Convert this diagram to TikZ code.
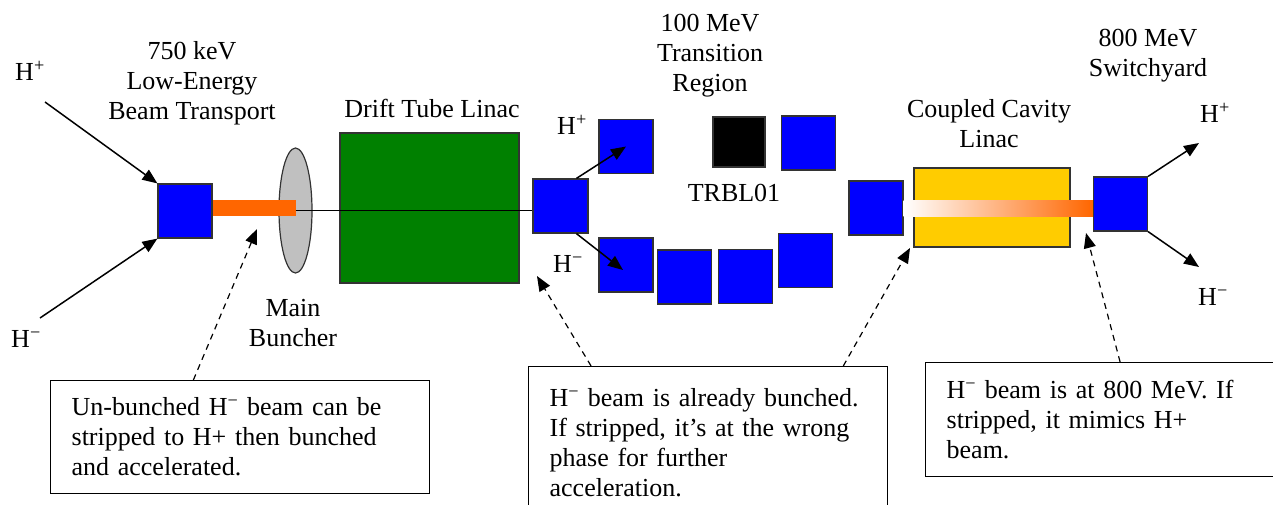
\documentclass[tikz,border=0pt]{standalone}
\usepackage{fontspec}
\setmainfont{Liberation Serif}
\usetikzlibrary{arrows.meta,calc,shapes.geometric}
\definecolor{magblue}{RGB}{0,0,255}
\definecolor{dtlgreen}{RGB}{0,128,0}
\definecolor{cclyellow}{RGB}{255,204,0}
\definecolor{beamorange}{RGB}{255,102,0}
\definecolor{bunchgray}{RGB}{192,192,192}
\newcommand{\Hplus}{H\textsuperscript{+}}
\newcommand{\Hminus}{H\textsuperscript{−}}
\tikzset{magnet/.style={draw=black!80, fill=magblue, line width=1.2pt, minimum width=54pt, minimum height=54pt, inner sep=0pt},
         beam arrow/.style={-{Triangle[length=15pt,width=12pt]}, line width=1.5pt},
         pointer/.style={beam arrow, line width=1.2pt, dash pattern=on 6pt off 5pt},
         note/.style={draw, line width=1.3pt, fill=white, align=left, inner xsep=21pt, inner ysep=0pt, anchor=north west},
         lbl/.style={align=center, inner sep=0pt}}

\begin{document}
\begin{tikzpicture}[x=1pt, y=-1pt, font=\fontsize{26}{30}\selectfont]
\useasboundingbox (0,0) rectangle (1273,504);
\clip (0,0) rectangle (1273,504);
% linac hardware
\node [draw=black!80, fill=dtlgreen, line width=1.2pt, minimum width=179pt, minimum height=150pt, inner sep=0pt] (dtl) at (429.5,208) {};
\node [ellipse, draw=black!80, fill=bunchgray, line width=1.2pt, minimum width=33pt, minimum height=125pt, inner sep=0pt] (buncher) at (295.5,210.5) {};
\node [magnet] (lebt) at (185,211) {};
\fill [beamorange] (lebt.east |- 0,200) rectangle (buncher.center |- 0,216);
\node [magnet, minimum width=55pt] (bend) at (560.5,206) {};
\draw [line width=1.5pt] (buncher.center) -- (buncher.center -| bend.west);
\node [magnet] (up1) at (626,146.5) {};
\node [magnet] (low1) at (626,265) {};
\node [magnet] (low2) at (684.5,277) {};
\node [magnet] (low3) at (745.5,276.5) {};
\node [magnet] (low4) at (805.5,260.5) {};
\node [draw=black!80, fill=black, line width=1.2pt, minimum width=52pt, minimum height=50pt, inner sep=0pt] (trbl) at (739,142) {};
\node [magnet] (up2) at (808.5,143) {};
\node [magnet] (cclin) at (876,208) {};
\node [draw=black!80, fill=cclyellow, line width=1.2pt, minimum width=156pt, minimum height=79pt, inner sep=0pt] (ccl) at (992,207.5) {};
\shade [left color=white, right color=beamorange] (cclin.east |- 0,200) rectangle (1093,216);
\node [magnet] (yard) at (1120.5,204) {};

% beams in and out
\coordinate (pin) at (45,102);
\coordinate (min) at (40,318);
\draw [beam arrow] (pin) -- (lebt.north west);
\draw [beam arrow] (min) -- (lebt.south west);
\draw [beam arrow] (bend.60) -- (up1.center);
\draw [beam arrow] (bend.-60) -- ($(low1.center)+(-3,5)$);
\coordinate (pout) at (1199,143);
\coordinate (mout) at (1199,267);
\draw [beam arrow] (yard.north east) -- (pout);
\draw [beam arrow] (yard.south east) -- (mout);

% labels
\node [lbl] (hpin) at (30,71) {\Hplus};
\node [lbl] (hmin) at (26,339) {\Hminus};
\node [lbl] (lebtlbl) at (192,83) {750 keV\\Low-Energy\\Beam Transport};
\node [lbl] (dtllbl) at (432,108) {Drift Tube Linac};
\node [lbl] (bunchlbl) at (293,323) {Main\\Buncher};
\node [lbl] (hpmid) at (572,125) {\Hplus};
\node [lbl] (hmmid) at (568,264) {\Hminus};
\node [lbl] (translbl) at (710,56) {100 MeV\\Transition\\Region};
\node [lbl] (trbllbl) at (734,193) {TRBL01};
\node [lbl] (ccllbl) at (989,124) {Coupled Cavity\\Linac};
\node [lbl] (yardlbl) at (1148,56) {800 MeV\\Switchyard};
\node [lbl] (hpout) at (1215,113) {\Hplus};
\node [lbl] (hmout) at (1213,297) {\Hminus};

% notes
\node [note, minimum width=379pt, minimum height=113pt, text width=337pt] (note1) at (50,380)
  {Un-bunched \Hminus{} beam can be\\stripped to H+ then bunched\\and accelerated.};
\node [note, minimum width=359pt, minimum height=153pt, text width=317pt] (note2) at (528,366)
  {\Hminus{} beam is already bunched.\\If stripped, it’s at the wrong\\phase for further\\acceleration.};
\node [note, minimum width=360pt, minimum height=114pt, text width=318pt] (note3) at (925,362)
  {\Hminus{} beam is at 800 MeV. If\\stripped, it mimics H+\\beam.};
\coordinate (tip1) at (257,229);
\coordinate (tip2) at (537,276);
\coordinate (tip3) at (910,248);
\coordinate (tip4) at (1086,233);
\draw [pointer] ($(note1.north west)!0.377!(note1.north east)$) -- (tip1);
\draw [pointer] ($(note2.north west)!0.175!(note2.north east)$) -- (tip2);
\draw [pointer] ($(note2.north west)!0.875!(note2.north east)$) -- (tip3);
\draw [pointer] ($(note3.north west)!0.54!(note3.north east)$) -- (tip4);
\end{tikzpicture}
\end{document}
